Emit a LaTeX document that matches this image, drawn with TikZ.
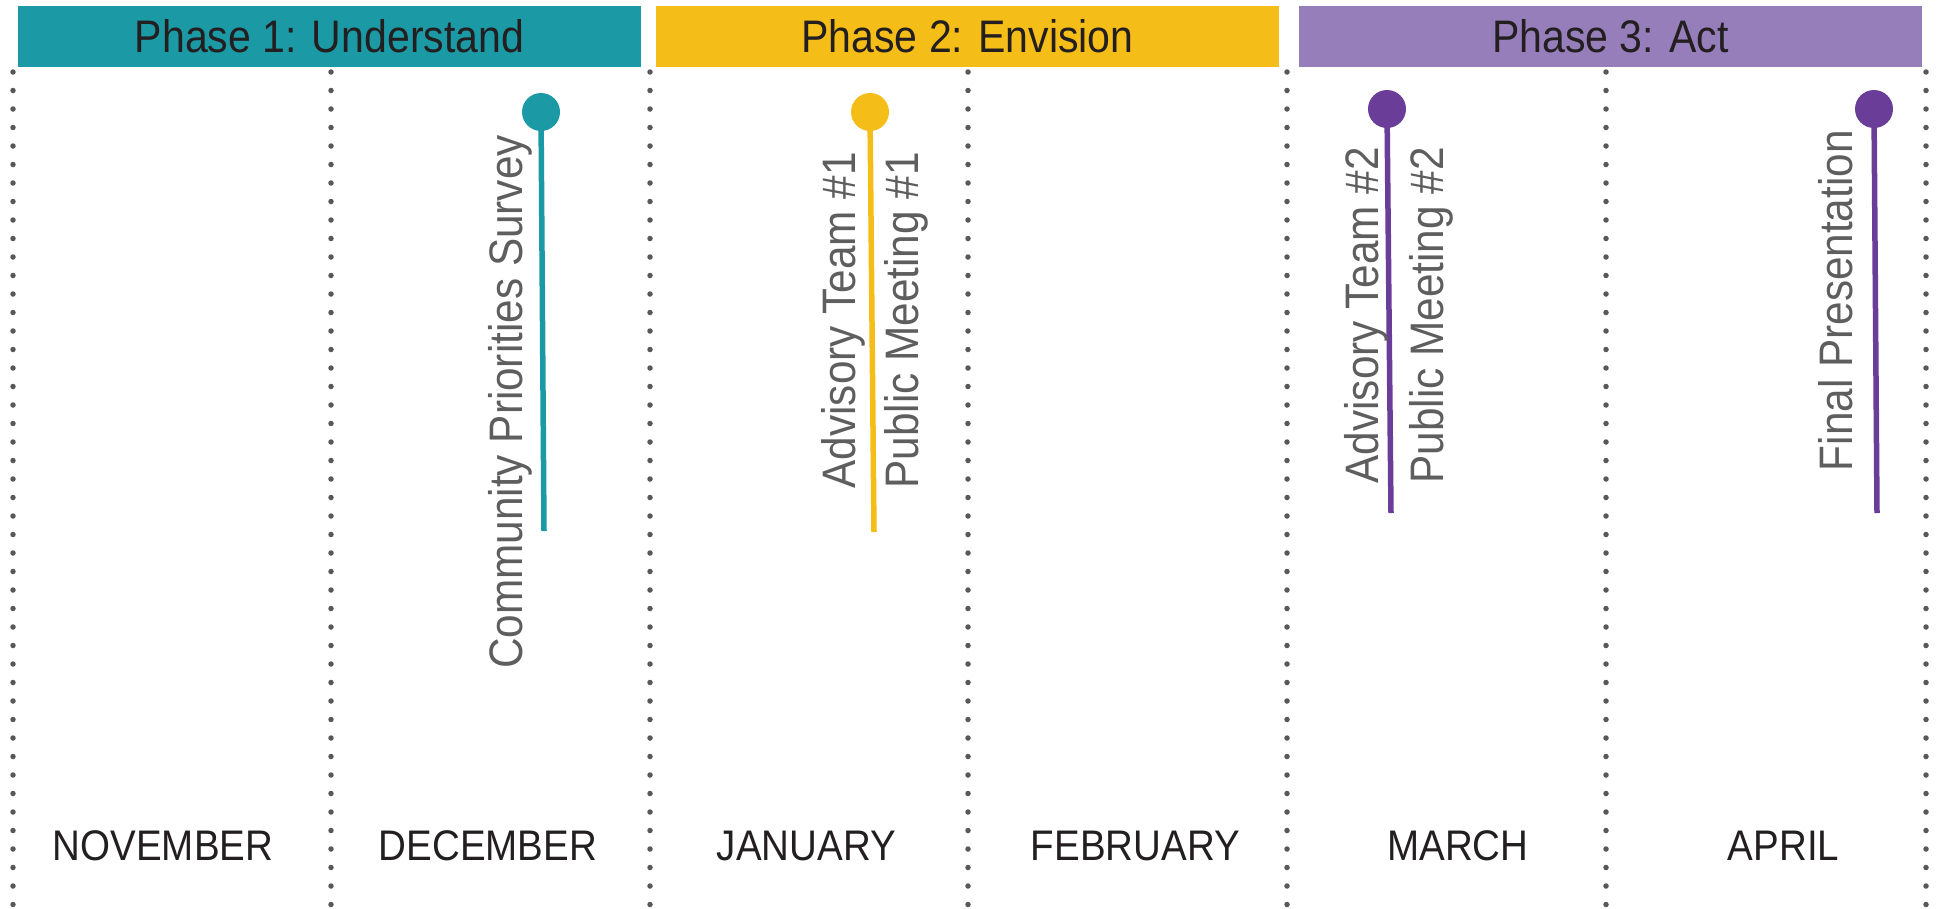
\documentclass[tikz,border=0pt]{standalone}
\usepackage{fontspec}
\setmainfont{Liberation Sans}[FakeStretch=0.9]
\definecolor{phaseteal}{HTML}{1B9AA6}
\definecolor{phaseyellow}{HTML}{F5BD17}
\definecolor{phaselilac}{HTML}{967EBA}
\definecolor{pinpurple}{HTML}{6A3E98}
\definecolor{inkdark}{HTML}{231F20}
\definecolor{inkgray}{HTML}{5E5E5E}
\definecolor{dotgray}{HTML}{58585A}

\tikzset{
  phasebar/.style={fill=#1, minimum width=623pt, minimum height=61pt, inner sep=0pt,
    text=inkdark, font=\fontsize{45.6}{45.6}\selectfont},
  monthname/.style={anchor=base, inner sep=0pt, text=inkdark, font=\fontsize{42.8}{42.8}\selectfont},
  dotline/.style={dotgray, line width=5.5pt, line cap=round, dash pattern=on 0pt off 18.5pt},
  pinhead/.style={circle, fill=#1, minimum size=38pt, inner sep=0pt},
  pinstem/.style={#1, line width=5.5pt},
  pinlabel/.style={rotate=90, anchor=base east, inner sep=0pt, text=inkgray,
    font=\fontsize{47}{47}\selectfont}
}

\begin{document}
\begin{tikzpicture}[x=1pt, y=-1pt]
    \useasboundingbox (0,0) rectangle (1939,908);

    % Dotted month separators
    \foreach \x in {13,331,650,968,1287,1606,1926}
        \draw[dotline] (\x,72) -- (\x,906);

    % Phase bars along the top
    \node[phasebar=phaseteal] (phaseone) at (329.5,36.5) {Phase 1: Understand};
    \node[phasebar=phaseyellow] (phasetwo) at (967.5,36.5) {Phase 2: Envision};
    \node[phasebar=phaselilac] (phasethree) at (1610.5,36.5) {Phase 3: Act};

    % Month names
    \node[monthname] (nov) at (163,860) {NOVEMBER};
    \node[monthname] (dec) at (488,860) {DECEMBER};
    \node[monthname] (jan) at (806.5,860) {JANUARY};
    \node[monthname] (feb) at (1135.5,860) {FEBRUARY};
    \node[monthname] (mar) at (1458,860) {MARCH};
    \node[monthname] (apr) at (1783.5,860) {APRIL};

    % Milestone pins
    \coordinate (surveyend) at (544,531);
    \coordinate (meetoneend) at (874,532);
    \coordinate (meettwoend) at (1391,513);
    \coordinate (finalend) at (1877,513);
    \draw[pinstem=phaseteal] (541,112) -- (surveyend);
    \draw[pinstem=phaseyellow] (870,112) -- (meetoneend);
    \draw[pinstem=pinpurple] (1387,109) -- (meettwoend);
    \draw[pinstem=pinpurple] (1874,109) -- (finalend);
    \node[pinhead=phaseteal] (survey) at (541,112) {};
    \node[pinhead=phaseyellow] (meetone) at (870,112) {};
    \node[pinhead=pinpurple] (meettwo) at (1387,109) {};
    \node[pinhead=pinpurple] (final) at (1874,109) {};

    % Pin labels
    \node[pinlabel] (surveylbl) at (522,135) {Community Priorities Survey};
    \node[pinlabel] (advonelbl) at (855,152) {Advisory Team \#1};
    \node[pinlabel] (pubonelbl) at (918,152) {Public Meeting \#1};
    \node[pinlabel] (advtwolbl) at (1378,147) {Advisory Team \#2};
    \node[pinlabel] (pubtwolbl) at (1443,147) {Public Meeting \#2};
    \node[pinlabel] (finallbl) at (1852,130) {Final Presentation};
\end{tikzpicture}
\end{document}
